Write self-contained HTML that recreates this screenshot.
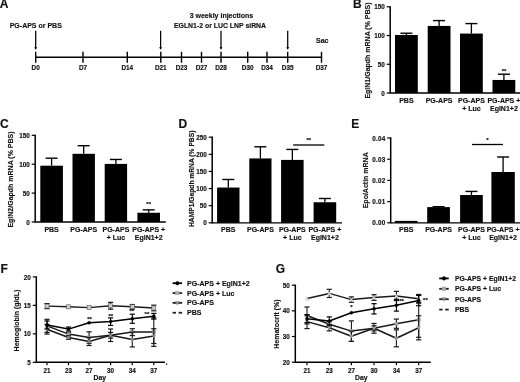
<!DOCTYPE html>
<html><head><meta charset="utf-8"><style>
html,body{margin:0;padding:0;background:#fff;width:520px;height:382px;overflow:hidden}
svg{display:block;will-change:transform}
text{font-family:"Liberation Sans",sans-serif;font-weight:bold;fill:#111;stroke:#111;stroke-width:0.15px}
</style></head><body>
<svg width="520" height="382" viewBox="0 0 520 382">
<text x="-0.2" y="7.9" font-size="12" text-anchor="start">A</text>
<line x1="35.7" y1="57.2" x2="321.5" y2="57.2" stroke="#000" stroke-width="1.4"/>
<line x1="35.7" y1="51.8" x2="35.7" y2="62.7" stroke="#000" stroke-width="1.4"/>
<text x="35.7" y="70.2" font-size="6.4" text-anchor="middle">D0</text>
<line x1="83" y1="51.8" x2="83" y2="62.7" stroke="#000" stroke-width="1.4"/>
<text x="83" y="70.2" font-size="6.4" text-anchor="middle">D7</text>
<line x1="127.3" y1="51.8" x2="127.3" y2="62.7" stroke="#000" stroke-width="1.4"/>
<text x="127.3" y="70.2" font-size="6.4" text-anchor="middle">D14</text>
<line x1="160.8" y1="51.8" x2="160.8" y2="62.7" stroke="#000" stroke-width="1.4"/>
<text x="160.8" y="70.2" font-size="6.4" text-anchor="middle">D21</text>
<line x1="181.5" y1="51.8" x2="181.5" y2="62.7" stroke="#000" stroke-width="1.4"/>
<text x="181.5" y="70.2" font-size="6.4" text-anchor="middle">D23</text>
<line x1="201.5" y1="51.8" x2="201.5" y2="62.7" stroke="#000" stroke-width="1.4"/>
<text x="201.5" y="70.2" font-size="6.4" text-anchor="middle">D27</text>
<line x1="221" y1="51.8" x2="221" y2="62.7" stroke="#000" stroke-width="1.4"/>
<text x="221" y="70.2" font-size="6.4" text-anchor="middle">D28</text>
<line x1="247.7" y1="51.8" x2="247.7" y2="62.7" stroke="#000" stroke-width="1.4"/>
<text x="247.7" y="70.2" font-size="6.4" text-anchor="middle">D30</text>
<line x1="267" y1="51.8" x2="267" y2="62.7" stroke="#000" stroke-width="1.4"/>
<text x="267" y="70.2" font-size="6.4" text-anchor="middle">D34</text>
<line x1="287.7" y1="51.8" x2="287.7" y2="62.7" stroke="#000" stroke-width="1.4"/>
<text x="287.7" y="70.2" font-size="6.4" text-anchor="middle">D35</text>
<line x1="321.5" y1="51.8" x2="321.5" y2="62.7" stroke="#000" stroke-width="1.4"/>
<text x="321.5" y="70.2" font-size="6.4" text-anchor="middle">D37</text>
<line x1="35.7" y1="30.8" x2="35.7" y2="48.3" stroke="#000" stroke-width="1.25"/>
<path d="M34.2,47.199999999999996 L37.2,47.199999999999996 L35.7,49.8 Z" fill="#000"/>
<line x1="160.6" y1="30.8" x2="160.6" y2="48.3" stroke="#000" stroke-width="1.25"/>
<path d="M159.1,47.199999999999996 L162.1,47.199999999999996 L160.6,49.8 Z" fill="#000"/>
<line x1="221" y1="30.8" x2="221" y2="48.3" stroke="#000" stroke-width="1.25"/>
<path d="M219.5,47.199999999999996 L222.5,47.199999999999996 L221,49.8 Z" fill="#000"/>
<line x1="287.7" y1="30.8" x2="287.7" y2="48.3" stroke="#000" stroke-width="1.25"/>
<path d="M286.2,47.199999999999996 L289.2,47.199999999999996 L287.7,49.8 Z" fill="#000"/>
<text x="9.7" y="27.9" font-size="7" text-anchor="start">PG-APS or PBS</text>
<text x="221.4" y="17.7" font-size="7" text-anchor="middle">3 weekly injections</text>
<text x="220.0" y="27.8" font-size="6.9" text-anchor="middle">EGLN1-2 or LUC LNP siRNA</text>
<text x="316" y="43.4" font-size="7" text-anchor="start">Sac</text>
<text x="353.0" y="7.9" font-size="12" text-anchor="start">B</text>
<line x1="390.2" y1="6.2" x2="390.2" y2="93.6" stroke="#000" stroke-width="1.5"/>
<line x1="390.2" y1="93" x2="521.0999999999999" y2="93" stroke="#000" stroke-width="1.3"/>
<line x1="386.7" y1="93.0" x2="390.2" y2="93.0" stroke="#000" stroke-width="1.2"/>
<text x="384.7" y="95.6" font-size="6.3" text-anchor="end">0</text>
<line x1="386.7" y1="64.26666666666667" x2="390.2" y2="64.26666666666667" stroke="#000" stroke-width="1.2"/>
<text x="384.7" y="66.86666666666666" font-size="6.3" text-anchor="end">50</text>
<line x1="386.7" y1="35.53333333333333" x2="390.2" y2="35.53333333333333" stroke="#000" stroke-width="1.2"/>
<text x="384.7" y="38.13333333333333" font-size="6.3" text-anchor="end">100</text>
<line x1="386.7" y1="6.799999999999997" x2="390.2" y2="6.799999999999997" stroke="#000" stroke-width="1.2"/>
<text x="384.7" y="9.399999999999997" font-size="6.3" text-anchor="end">150</text>
<rect x="395" y="34.958666666666666" width="22.8" height="58.041333333333334" fill="#000"/>
<line x1="406.4" y1="33.23466666666667" x2="406.4" y2="34.958666666666666" stroke="#000" stroke-width="1.3"/>
<line x1="400.4" y1="33.23466666666667" x2="412.4" y2="33.23466666666667" stroke="#000" stroke-width="1.4"/>
<text x="406.4" y="102.8" font-size="7" text-anchor="middle">PBS</text>
<rect x="427.7" y="25.936400000000006" width="22.8" height="67.0636" fill="#000"/>
<line x1="439.09999999999997" y1="20.592" x2="439.09999999999997" y2="25.936400000000006" stroke="#000" stroke-width="1.3"/>
<line x1="433.09999999999997" y1="20.592" x2="445.09999999999997" y2="20.592" stroke="#000" stroke-width="1.4"/>
<text x="439.09999999999997" y="102.8" font-size="7" text-anchor="middle">PG-APS</text>
<rect x="460" y="33.57946666666666" width="22.8" height="59.42053333333334" fill="#000"/>
<line x1="471.4" y1="23.580266666666674" x2="471.4" y2="33.57946666666666" stroke="#000" stroke-width="1.3"/>
<line x1="465.4" y1="23.580266666666674" x2="477.4" y2="23.580266666666674" stroke="#000" stroke-width="1.4"/>
<text x="471.4" y="102.8" font-size="7" text-anchor="middle">PG-APS</text>
<text x="471.4" y="110.89999999999999" font-size="7" text-anchor="middle">+ Luc</text>
<rect x="492.5" y="79.95506666666667" width="22.8" height="13.044933333333333" fill="#000"/>
<line x1="503.9" y1="74.2084" x2="503.9" y2="79.95506666666667" stroke="#000" stroke-width="1.3"/>
<line x1="497.9" y1="74.2084" x2="509.9" y2="74.2084" stroke="#000" stroke-width="1.4"/>
<text x="503.9" y="102.8" font-size="7" text-anchor="middle">PG-APS +</text>
<text x="503.9" y="110.89999999999999" font-size="7" text-anchor="middle">EglN1+2</text>
<text transform="translate(370.2,50.5) rotate(-90)" font-size="7" text-anchor="middle">EglN1/Gapdh mRNA (% PBS)</text>
<text x="504" y="73" font-size="6" text-anchor="middle">**</text>
<text x="0.0" y="127.6" font-size="12" text-anchor="start">C</text>
<line x1="35.2" y1="134.70000000000002" x2="35.2" y2="222.6" stroke="#000" stroke-width="1.5"/>
<line x1="35.2" y1="222.0" x2="165.8" y2="222.0" stroke="#000" stroke-width="1.3"/>
<line x1="31.700000000000003" y1="222.0" x2="35.2" y2="222.0" stroke="#000" stroke-width="1.2"/>
<text x="29.700000000000003" y="224.6" font-size="6.3" text-anchor="end">0</text>
<line x1="31.700000000000003" y1="193.1" x2="35.2" y2="193.1" stroke="#000" stroke-width="1.2"/>
<text x="29.700000000000003" y="195.7" font-size="6.3" text-anchor="end">50</text>
<line x1="31.700000000000003" y1="164.2" x2="35.2" y2="164.2" stroke="#000" stroke-width="1.2"/>
<text x="29.700000000000003" y="166.79999999999998" font-size="6.3" text-anchor="end">100</text>
<line x1="31.700000000000003" y1="135.3" x2="35.2" y2="135.3" stroke="#000" stroke-width="1.2"/>
<text x="29.700000000000003" y="137.9" font-size="6.3" text-anchor="end">150</text>
<rect x="40.3" y="165.7028" width="22.6" height="56.297200000000004" fill="#000"/>
<line x1="51.599999999999994" y1="158.18880000000001" x2="51.599999999999994" y2="165.7028" stroke="#000" stroke-width="1.3"/>
<line x1="45.599999999999994" y1="158.18880000000001" x2="57.599999999999994" y2="158.18880000000001" stroke="#000" stroke-width="1.4"/>
<text x="51.599999999999994" y="232.3" font-size="7" text-anchor="middle">PBS</text>
<rect x="72.5" y="153.796" width="22.4" height="68.20400000000001" fill="#000"/>
<line x1="83.7" y1="145.704" x2="83.7" y2="153.796" stroke="#000" stroke-width="1.3"/>
<line x1="77.7" y1="145.704" x2="89.7" y2="145.704" stroke="#000" stroke-width="1.4"/>
<text x="83.7" y="232.3" font-size="7" text-anchor="middle">PG-APS</text>
<rect x="104.7" y="163.911" width="22.4" height="58.089" fill="#000"/>
<line x1="115.9" y1="159.4604" x2="115.9" y2="163.911" stroke="#000" stroke-width="1.3"/>
<line x1="109.9" y1="159.4604" x2="121.9" y2="159.4604" stroke="#000" stroke-width="1.4"/>
<text x="115.9" y="232.3" font-size="7" text-anchor="middle">PG-APS</text>
<text x="115.9" y="240.4" font-size="7" text-anchor="middle">+ Luc</text>
<rect x="137.4" y="212.752" width="22.6" height="9.24799999999999" fill="#000"/>
<line x1="148.70000000000002" y1="209.862" x2="148.70000000000002" y2="212.752" stroke="#000" stroke-width="1.3"/>
<line x1="142.70000000000002" y1="209.862" x2="154.70000000000002" y2="209.862" stroke="#000" stroke-width="1.4"/>
<text x="148.70000000000002" y="232.3" font-size="7" text-anchor="middle">PG-APS +</text>
<text x="148.70000000000002" y="240.4" font-size="7" text-anchor="middle">EglN1+2</text>
<text transform="translate(13.3,179.5) rotate(-90)" font-size="7" text-anchor="middle">EglN2/Gapdh mRNA (% PBS)</text>
<text x="148.7" y="205.5" font-size="6" text-anchor="middle">**</text>
<text x="178.6" y="127.9" font-size="12" text-anchor="start">D</text>
<line x1="212.2" y1="136.6" x2="212.2" y2="223.4" stroke="#000" stroke-width="1.5"/>
<line x1="212.2" y1="222.8" x2="342.00000000000006" y2="222.8" stroke="#000" stroke-width="1.3"/>
<line x1="208.7" y1="222.8" x2="212.2" y2="222.8" stroke="#000" stroke-width="1.2"/>
<text x="206.7" y="225.4" font-size="6.3" text-anchor="end">0</text>
<line x1="208.7" y1="205.68" x2="212.2" y2="205.68" stroke="#000" stroke-width="1.2"/>
<text x="206.7" y="208.28" font-size="6.3" text-anchor="end">50</text>
<line x1="208.7" y1="188.56" x2="212.2" y2="188.56" stroke="#000" stroke-width="1.2"/>
<text x="206.7" y="191.16" font-size="6.3" text-anchor="end">100</text>
<line x1="208.7" y1="171.44" x2="212.2" y2="171.44" stroke="#000" stroke-width="1.2"/>
<text x="206.7" y="174.04" font-size="6.3" text-anchor="end">150</text>
<line x1="208.7" y1="154.32" x2="212.2" y2="154.32" stroke="#000" stroke-width="1.2"/>
<text x="206.7" y="156.92" font-size="6.3" text-anchor="end">200</text>
<line x1="208.7" y1="137.2" x2="212.2" y2="137.2" stroke="#000" stroke-width="1.2"/>
<text x="206.7" y="139.79999999999998" font-size="6.3" text-anchor="end">250</text>
<rect x="217.1" y="187.5328" width="22.4" height="35.2672" fill="#000"/>
<line x1="228.29999999999998" y1="179.4864" x2="228.29999999999998" y2="187.5328" stroke="#000" stroke-width="1.3"/>
<line x1="222.29999999999998" y1="179.4864" x2="234.29999999999998" y2="179.4864" stroke="#000" stroke-width="1.4"/>
<text x="228.29999999999998" y="232.3" font-size="7" text-anchor="middle">PBS</text>
<rect x="249.3" y="158.4288" width="22.2" height="64.37120000000002" fill="#000"/>
<line x1="260.40000000000003" y1="146.78719999999998" x2="260.40000000000003" y2="158.4288" stroke="#000" stroke-width="1.3"/>
<line x1="254.40000000000003" y1="146.78719999999998" x2="266.40000000000003" y2="146.78719999999998" stroke="#000" stroke-width="1.4"/>
<text x="260.40000000000003" y="232.3" font-size="7" text-anchor="middle">PG-APS</text>
<rect x="281.1" y="159.90112" width="22.5" height="62.89888000000002" fill="#000"/>
<line x1="292.35" y1="149.42368" x2="292.35" y2="159.90112" stroke="#000" stroke-width="1.3"/>
<line x1="286.35" y1="149.42368" x2="298.35" y2="149.42368" stroke="#000" stroke-width="1.4"/>
<text x="292.35" y="232.3" font-size="7" text-anchor="middle">PG-APS</text>
<text x="292.35" y="240.4" font-size="7" text-anchor="middle">+ Luc</text>
<rect x="313.6" y="202.256" width="22.6" height="20.54400000000001" fill="#000"/>
<line x1="324.90000000000003" y1="198.4896" x2="324.90000000000003" y2="202.256" stroke="#000" stroke-width="1.3"/>
<line x1="318.90000000000003" y1="198.4896" x2="330.90000000000003" y2="198.4896" stroke="#000" stroke-width="1.4"/>
<text x="324.90000000000003" y="232.3" font-size="7" text-anchor="middle">PG-APS +</text>
<text x="324.90000000000003" y="240.4" font-size="7" text-anchor="middle">EglN1+2</text>
<text transform="translate(193.6,178.8) rotate(-90)" font-size="6.7" text-anchor="middle">HAMP1/Gapdh mRNA (% PBS)</text>
<line x1="293.2" y1="145" x2="324.3" y2="145" stroke="#000" stroke-width="1.3"/>
<text x="308.8" y="141.9" font-size="6" text-anchor="middle">**</text>
<text x="351.3" y="128.0" font-size="12" text-anchor="start">E</text>
<line x1="390.7" y1="137.4" x2="390.7" y2="223.4" stroke="#000" stroke-width="1.5"/>
<line x1="390.7" y1="222.8" x2="520.5999999999999" y2="222.8" stroke="#000" stroke-width="1.3"/>
<line x1="387.2" y1="222.8" x2="390.7" y2="222.8" stroke="#000" stroke-width="1.2"/>
<text x="385.2" y="225.4" font-size="6.3" text-anchor="end" letter-spacing="0.3" dx="0.5">0.00</text>
<line x1="387.2" y1="201.6" x2="390.7" y2="201.6" stroke="#000" stroke-width="1.2"/>
<text x="385.2" y="204.2" font-size="6.3" text-anchor="end" letter-spacing="0.3" dx="0.5">0.01</text>
<line x1="387.2" y1="180.4" x2="390.7" y2="180.4" stroke="#000" stroke-width="1.2"/>
<text x="385.2" y="183.0" font-size="6.3" text-anchor="end" letter-spacing="0.3" dx="0.5">0.02</text>
<line x1="387.2" y1="159.2" x2="390.7" y2="159.2" stroke="#000" stroke-width="1.2"/>
<text x="385.2" y="161.79999999999998" font-size="6.3" text-anchor="end" letter-spacing="0.3" dx="0.5">0.03</text>
<line x1="387.2" y1="138.0" x2="390.7" y2="138.0" stroke="#000" stroke-width="1.2"/>
<text x="385.2" y="140.6" font-size="6.3" text-anchor="end" letter-spacing="0.3" dx="0.5">0.04</text>
<rect x="394.9" y="220.89200000000002" width="22.6" height="1.907999999999987" fill="#000"/>
<text x="406.2" y="232.3" font-size="7" text-anchor="middle">PBS</text>
<rect x="427.2" y="207.112" width="22.7" height="15.688000000000017" fill="#000"/>
<line x1="438.55" y1="206.68800000000002" x2="438.55" y2="207.112" stroke="#000" stroke-width="1.3"/>
<line x1="432.55" y1="206.68800000000002" x2="444.55" y2="206.68800000000002" stroke="#000" stroke-width="1.4"/>
<text x="438.55" y="232.3" font-size="7" text-anchor="middle">PG-APS</text>
<rect x="460.1" y="195.0068" width="22.7" height="27.793200000000013" fill="#000"/>
<line x1="471.45000000000005" y1="191.424" x2="471.45000000000005" y2="195.0068" stroke="#000" stroke-width="1.3"/>
<line x1="465.45000000000005" y1="191.424" x2="477.45000000000005" y2="191.424" stroke="#000" stroke-width="1.4"/>
<text x="471.45000000000005" y="232.3" font-size="7" text-anchor="middle">PG-APS</text>
<text x="471.45000000000005" y="240.4" font-size="7" text-anchor="middle">+ Luc</text>
<rect x="491.4" y="172.0048" width="23.4" height="50.79520000000002" fill="#000"/>
<line x1="503.09999999999997" y1="156.9952" x2="503.09999999999997" y2="172.0048" stroke="#000" stroke-width="1.3"/>
<line x1="497.09999999999997" y1="156.9952" x2="509.09999999999997" y2="156.9952" stroke="#000" stroke-width="1.4"/>
<text x="503.09999999999997" y="232.3" font-size="7" text-anchor="middle">PG-APS +</text>
<text x="503.09999999999997" y="240.4" font-size="7" text-anchor="middle">EglN1+2</text>
<text transform="translate(367.6,180.3) rotate(-90)" font-size="7" text-anchor="middle">Epo/Actin mRNA</text>
<line x1="472" y1="144.5" x2="503" y2="144.5" stroke="#000" stroke-width="1.3"/>
<text x="487.3" y="141.5" font-size="6" text-anchor="middle">*</text>
<text x="0.4" y="272.5" font-size="12" text-anchor="start">F</text>
<line x1="36.3" y1="276.29999999999995" x2="36.3" y2="362.90000000000003" stroke="#000" stroke-width="1.5"/>
<line x1="36.3" y1="362.3" x2="165" y2="362.3" stroke="#000" stroke-width="1.4"/>
<line x1="32.8" y1="362.3" x2="36.3" y2="362.3" stroke="#000" stroke-width="1.2"/>
<text x="30.799999999999997" y="364.90000000000003" font-size="6.3" text-anchor="end">5</text>
<line x1="32.8" y1="333.8333333333333" x2="36.3" y2="333.8333333333333" stroke="#000" stroke-width="1.2"/>
<text x="30.799999999999997" y="336.43333333333334" font-size="6.3" text-anchor="end">10</text>
<line x1="32.8" y1="305.3666666666667" x2="36.3" y2="305.3666666666667" stroke="#000" stroke-width="1.2"/>
<text x="30.799999999999997" y="307.9666666666667" font-size="6.3" text-anchor="end">15</text>
<line x1="32.8" y1="276.9" x2="36.3" y2="276.9" stroke="#000" stroke-width="1.2"/>
<text x="30.799999999999997" y="279.5" font-size="6.3" text-anchor="end">20</text>
<line x1="47" y1="362.3" x2="47" y2="365.3" stroke="#000" stroke-width="1.2"/>
<text x="47" y="372.6" font-size="6.3" text-anchor="middle">21</text>
<line x1="68.5" y1="362.3" x2="68.5" y2="365.3" stroke="#000" stroke-width="1.2"/>
<text x="68.5" y="372.6" font-size="6.3" text-anchor="middle">23</text>
<line x1="89.1" y1="362.3" x2="89.1" y2="365.3" stroke="#000" stroke-width="1.2"/>
<text x="89.1" y="372.6" font-size="6.3" text-anchor="middle">27</text>
<line x1="110.6" y1="362.3" x2="110.6" y2="365.3" stroke="#000" stroke-width="1.2"/>
<text x="110.6" y="372.6" font-size="6.3" text-anchor="middle">30</text>
<line x1="132.3" y1="362.3" x2="132.3" y2="365.3" stroke="#000" stroke-width="1.2"/>
<text x="132.3" y="372.6" font-size="6.3" text-anchor="middle">34</text>
<line x1="153.8" y1="362.3" x2="153.8" y2="365.3" stroke="#000" stroke-width="1.2"/>
<text x="153.8" y="372.6" font-size="6.3" text-anchor="middle">37</text>
<text x="99.85" y="380.0" font-size="6.8" text-anchor="middle">Day</text>
<text transform="translate(18.9,320.5) rotate(-90)" font-size="7" text-anchor="middle">Hemoglobin (g/dL)</text>
<polyline points="47,306.1 68.5,306.8 89.1,307.6 110.6,305.8 132.3,306.8 153.8,308.0" fill="none" stroke="#1a1a1a" stroke-width="1.4" stroke-linejoin="round"/>
<line x1="47" y1="303.6017333333333" x2="47" y2="308.61186666666663" stroke="#1a1a1a" stroke-width="1.1"/>
<line x1="44.4" y1="303.6017333333333" x2="49.6" y2="303.6017333333333" stroke="#1a1a1a" stroke-width="1.2"/>
<line x1="44.4" y1="308.61186666666663" x2="49.6" y2="308.61186666666663" stroke="#1a1a1a" stroke-width="1.2"/>
<line x1="110.6" y1="302.3492" x2="110.6" y2="309.1812" stroke="#1a1a1a" stroke-width="1.1"/>
<line x1="108.0" y1="302.3492" x2="113.19999999999999" y2="302.3492" stroke="#1a1a1a" stroke-width="1.2"/>
<line x1="108.0" y1="309.1812" x2="113.19999999999999" y2="309.1812" stroke="#1a1a1a" stroke-width="1.2"/>
<line x1="132.3" y1="304.51266666666663" x2="132.3" y2="309.0673333333333" stroke="#1a1a1a" stroke-width="1.1"/>
<line x1="129.70000000000002" y1="304.51266666666663" x2="134.9" y2="304.51266666666663" stroke="#1a1a1a" stroke-width="1.2"/>
<line x1="129.70000000000002" y1="309.0673333333333" x2="134.9" y2="309.0673333333333" stroke="#1a1a1a" stroke-width="1.2"/>
<line x1="153.8" y1="305.13893333333334" x2="153.8" y2="310.83226666666667" stroke="#1a1a1a" stroke-width="1.1"/>
<line x1="151.20000000000002" y1="305.13893333333334" x2="156.4" y2="305.13893333333334" stroke="#1a1a1a" stroke-width="1.2"/>
<line x1="151.20000000000002" y1="310.83226666666667" x2="156.4" y2="310.83226666666667" stroke="#1a1a1a" stroke-width="1.2"/>
<rect x="45.0" y="304.1" width="4.0" height="4.0" fill="#cfcfcf" stroke="#555" stroke-width="0.6"/>
<rect x="66.5" y="304.8" width="4.0" height="4.0" fill="#cfcfcf" stroke="#555" stroke-width="0.6"/>
<rect x="87.1" y="305.6" width="4.0" height="4.0" fill="#cfcfcf" stroke="#555" stroke-width="0.6"/>
<rect x="108.6" y="303.8" width="4.0" height="4.0" fill="#cfcfcf" stroke="#555" stroke-width="0.6"/>
<rect x="130.3" y="304.8" width="4.0" height="4.0" fill="#cfcfcf" stroke="#555" stroke-width="0.6"/>
<rect x="151.8" y="306.0" width="4.0" height="4.0" fill="#cfcfcf" stroke="#555" stroke-width="0.6"/>
<polyline points="47,325.9 68.5,334.1 89.1,337.5 110.6,335.3 132.3,332.1 153.8,332.1" fill="none" stroke="#1a1a1a" stroke-width="1.5" stroke-linejoin="round"/>
<line x1="47" y1="319.31533333333334" x2="47" y2="332.40999999999997" stroke="#1a1a1a" stroke-width="1.1"/>
<line x1="44.4" y1="319.31533333333334" x2="49.6" y2="319.31533333333334" stroke="#1a1a1a" stroke-width="1.2"/>
<line x1="44.4" y1="332.40999999999997" x2="49.6" y2="332.40999999999997" stroke="#1a1a1a" stroke-width="1.2"/>
<line x1="68.5" y1="332.40999999999997" x2="68.5" y2="335.826" stroke="#1a1a1a" stroke-width="1.1"/>
<line x1="65.9" y1="332.40999999999997" x2="71.1" y2="332.40999999999997" stroke="#1a1a1a" stroke-width="1.2"/>
<line x1="65.9" y1="335.826" x2="71.1" y2="335.826" stroke="#1a1a1a" stroke-width="1.2"/>
<line x1="89.1" y1="331.84066666666666" x2="89.1" y2="343.2273333333333" stroke="#1a1a1a" stroke-width="1.1"/>
<line x1="86.5" y1="331.84066666666666" x2="91.69999999999999" y2="331.84066666666666" stroke="#1a1a1a" stroke-width="1.2"/>
<line x1="86.5" y1="343.2273333333333" x2="91.69999999999999" y2="343.2273333333333" stroke="#1a1a1a" stroke-width="1.2"/>
<line x1="110.6" y1="332.40999999999997" x2="110.6" y2="338.10333333333335" stroke="#1a1a1a" stroke-width="1.1"/>
<line x1="108.0" y1="332.40999999999997" x2="113.19999999999999" y2="332.40999999999997" stroke="#1a1a1a" stroke-width="1.2"/>
<line x1="108.0" y1="338.10333333333335" x2="113.19999999999999" y2="338.10333333333335" stroke="#1a1a1a" stroke-width="1.2"/>
<line x1="132.3" y1="328.70933333333335" x2="132.3" y2="335.54133333333334" stroke="#1a1a1a" stroke-width="1.1"/>
<line x1="129.70000000000002" y1="328.70933333333335" x2="134.9" y2="328.70933333333335" stroke="#1a1a1a" stroke-width="1.2"/>
<line x1="129.70000000000002" y1="335.54133333333334" x2="134.9" y2="335.54133333333334" stroke="#1a1a1a" stroke-width="1.2"/>
<line x1="153.8" y1="317.892" x2="153.8" y2="346.3586666666667" stroke="#1a1a1a" stroke-width="1.1"/>
<line x1="151.20000000000002" y1="317.892" x2="156.4" y2="317.892" stroke="#1a1a1a" stroke-width="1.2"/>
<line x1="151.20000000000002" y1="346.3586666666667" x2="156.4" y2="346.3586666666667" stroke="#1a1a1a" stroke-width="1.2"/>
<rect x="45.5" y="324.4" width="3.0" height="3.0" fill="#a0a0a0" stroke="#888" stroke-width="0.6"/>
<rect x="67.0" y="332.6" width="3.0" height="3.0" fill="#a0a0a0" stroke="#888" stroke-width="0.6"/>
<rect x="87.6" y="336.0" width="3.0" height="3.0" fill="#a0a0a0" stroke="#888" stroke-width="0.6"/>
<rect x="109.1" y="333.8" width="3.0" height="3.0" fill="#a0a0a0" stroke="#888" stroke-width="0.6"/>
<rect x="130.8" y="330.6" width="3.0" height="3.0" fill="#a0a0a0" stroke="#888" stroke-width="0.6"/>
<rect x="152.3" y="330.6" width="3.0" height="3.0" fill="#a0a0a0" stroke="#888" stroke-width="0.6"/>
<polyline points="47,329.3 68.5,337.5 89.1,341.5 110.6,335.3 132.3,339.5 153.8,336.1" fill="none" stroke="#1a1a1a" stroke-width="1.5" stroke-linejoin="round"/>
<line x1="47" y1="324.4393333333333" x2="47" y2="334.118" stroke="#1a1a1a" stroke-width="1.1"/>
<line x1="44.4" y1="324.4393333333333" x2="49.6" y2="324.4393333333333" stroke="#1a1a1a" stroke-width="1.2"/>
<line x1="44.4" y1="334.118" x2="49.6" y2="334.118" stroke="#1a1a1a" stroke-width="1.2"/>
<line x1="68.5" y1="335.826" x2="68.5" y2="339.242" stroke="#1a1a1a" stroke-width="1.1"/>
<line x1="65.9" y1="335.826" x2="71.1" y2="335.826" stroke="#1a1a1a" stroke-width="1.2"/>
<line x1="65.9" y1="339.242" x2="71.1" y2="339.242" stroke="#1a1a1a" stroke-width="1.2"/>
<line x1="89.1" y1="337.534" x2="89.1" y2="345.50466666666665" stroke="#1a1a1a" stroke-width="1.1"/>
<line x1="86.5" y1="337.534" x2="91.69999999999999" y2="337.534" stroke="#1a1a1a" stroke-width="1.2"/>
<line x1="86.5" y1="345.50466666666665" x2="91.69999999999999" y2="345.50466666666665" stroke="#1a1a1a" stroke-width="1.2"/>
<line x1="110.6" y1="328.994" x2="110.6" y2="341.51933333333335" stroke="#1a1a1a" stroke-width="1.1"/>
<line x1="108.0" y1="328.994" x2="113.19999999999999" y2="328.994" stroke="#1a1a1a" stroke-width="1.2"/>
<line x1="108.0" y1="341.51933333333335" x2="113.19999999999999" y2="341.51933333333335" stroke="#1a1a1a" stroke-width="1.2"/>
<line x1="132.3" y1="332.12533333333334" x2="132.3" y2="346.928" stroke="#1a1a1a" stroke-width="1.1"/>
<line x1="129.70000000000002" y1="332.12533333333334" x2="134.9" y2="332.12533333333334" stroke="#1a1a1a" stroke-width="1.2"/>
<line x1="129.70000000000002" y1="346.928" x2="134.9" y2="346.928" stroke="#1a1a1a" stroke-width="1.2"/>
<line x1="153.8" y1="328.70933333333335" x2="153.8" y2="343.512" stroke="#1a1a1a" stroke-width="1.1"/>
<line x1="151.20000000000002" y1="328.70933333333335" x2="156.4" y2="328.70933333333335" stroke="#1a1a1a" stroke-width="1.2"/>
<line x1="151.20000000000002" y1="343.512" x2="156.4" y2="343.512" stroke="#1a1a1a" stroke-width="1.2"/>
<path d="M45.2,328.1 L48.8,328.1 L47.0,331.1 Z" fill="#909090" stroke="#888" stroke-width="0.5"/>
<path d="M66.7,336.3 L70.3,336.3 L68.5,339.3 Z" fill="#909090" stroke="#888" stroke-width="0.5"/>
<path d="M87.3,340.3 L90.9,340.3 L89.1,343.3 Z" fill="#909090" stroke="#888" stroke-width="0.5"/>
<path d="M108.8,334.1 L112.4,334.1 L110.6,337.1 Z" fill="#909090" stroke="#888" stroke-width="0.5"/>
<path d="M130.5,338.3 L134.1,338.3 L132.3,341.3 Z" fill="#909090" stroke="#888" stroke-width="0.5"/>
<path d="M152.0,334.9 L155.6,334.9 L153.8,337.9 Z" fill="#909090" stroke="#888" stroke-width="0.5"/>
<polyline points="47,325.0 68.5,329.1 89.1,322.7 110.6,321.6 132.3,318.7 153.8,316.2" fill="none" stroke="#000" stroke-width="1.5" stroke-linejoin="round"/>
<line x1="47" y1="320.9664" x2="47" y2="328.9370666666666" stroke="#000" stroke-width="1.1"/>
<line x1="44.4" y1="320.9664" x2="49.6" y2="320.9664" stroke="#000" stroke-width="1.2"/>
<line x1="44.4" y1="328.9370666666666" x2="49.6" y2="328.9370666666666" stroke="#000" stroke-width="1.2"/>
<line x1="68.5" y1="327.05826666666667" x2="68.5" y2="331.04359999999997" stroke="#000" stroke-width="1.1"/>
<line x1="65.9" y1="327.05826666666667" x2="71.1" y2="327.05826666666667" stroke="#000" stroke-width="1.2"/>
<line x1="65.9" y1="331.04359999999997" x2="71.1" y2="331.04359999999997" stroke="#000" stroke-width="1.2"/>
<line x1="110.6" y1="317.892" x2="110.6" y2="325.4072" stroke="#000" stroke-width="1.1"/>
<line x1="108.0" y1="317.892" x2="113.19999999999999" y2="317.892" stroke="#000" stroke-width="1.2"/>
<line x1="108.0" y1="325.4072" x2="113.19999999999999" y2="325.4072" stroke="#000" stroke-width="1.2"/>
<line x1="132.3" y1="314.1913333333333" x2="132.3" y2="323.30066666666664" stroke="#000" stroke-width="1.1"/>
<line x1="129.70000000000002" y1="314.1913333333333" x2="134.9" y2="314.1913333333333" stroke="#000" stroke-width="1.2"/>
<line x1="129.70000000000002" y1="323.30066666666664" x2="134.9" y2="323.30066666666664" stroke="#000" stroke-width="1.2"/>
<line x1="153.8" y1="313.3942666666667" x2="153.8" y2="319.0876" stroke="#000" stroke-width="1.1"/>
<line x1="151.20000000000002" y1="313.3942666666667" x2="156.4" y2="313.3942666666667" stroke="#000" stroke-width="1.2"/>
<line x1="151.20000000000002" y1="319.0876" x2="156.4" y2="319.0876" stroke="#000" stroke-width="1.2"/>
<circle cx="47" cy="325.0" r="1.5" fill="#000" stroke="#000" stroke-width="0.5"/>
<circle cx="68.5" cy="329.1" r="1.5" fill="#000" stroke="#000" stroke-width="0.5"/>
<circle cx="89.1" cy="322.7" r="1.5" fill="#000" stroke="#000" stroke-width="0.5"/>
<circle cx="110.6" cy="321.6" r="1.5" fill="#000" stroke="#000" stroke-width="0.5"/>
<circle cx="132.3" cy="318.7" r="1.5" fill="#000" stroke="#000" stroke-width="0.5"/>
<circle cx="153.8" cy="316.2" r="1.5" fill="#000" stroke="#000" stroke-width="0.5"/>
<line x1="172.6" y1="283.2" x2="182.1" y2="283.2" stroke="#000" stroke-width="1.8"/>
<circle cx="177.35" cy="283.2" r="1.8" fill="#000" stroke="#000" stroke-width="0.5"/>
<text x="187.1" y="285.7" font-size="7" text-anchor="start">PG-APS + EglN1+2</text>
<line x1="172.6" y1="293.05" x2="182.1" y2="293.05" stroke="#222" stroke-width="1.8"/>
<rect x="175.5" y="291.2" width="3.6" height="3.6" fill="#aaa" stroke="#aaa" stroke-width="0.6"/>
<text x="187.1" y="295.55" font-size="7" text-anchor="start">PG-APS + Luc</text>
<line x1="172.6" y1="302.9" x2="182.1" y2="302.9" stroke="#222" stroke-width="1.8"/>
<path d="M175.2,301.4 L179.5,301.4 L177.3,305.0 Z" fill="#888" stroke="#888" stroke-width="0.5"/>
<text x="187.1" y="305.4" font-size="7" text-anchor="start">PG-APS</text>
<line x1="172.6" y1="312.75" x2="182.1" y2="312.75" stroke="#222" stroke-width="1.8"/>
<rect x="176.0" y="311.2" width="2.6" height="3" fill="#fff"/>
<text x="187.1" y="315.25" font-size="7" text-anchor="start">PBS</text>
<circle cx="166.6" cy="364.1" r="0.8" fill="#111"/>
<text x="89.5" y="320.9" font-size="6" text-anchor="middle">**</text>
<text x="110.8" y="317.6" font-size="6" text-anchor="middle">**</text>
<text x="131.8" y="313.4" font-size="6" text-anchor="middle">**</text>
<text x="146.9" y="315.5" font-size="6" text-anchor="middle">**</text>
<text x="275.7" y="272.7" font-size="12" text-anchor="start">G</text>
<line x1="295.3" y1="284.59999999999997" x2="295.3" y2="362.8" stroke="#000" stroke-width="1.5"/>
<line x1="295.3" y1="362.2" x2="430.8" y2="362.2" stroke="#000" stroke-width="1.4"/>
<line x1="291.8" y1="362.2" x2="295.3" y2="362.2" stroke="#000" stroke-width="1.2"/>
<text x="289.8" y="364.8" font-size="6.3" text-anchor="end">20</text>
<line x1="291.8" y1="336.5333333333333" x2="295.3" y2="336.5333333333333" stroke="#000" stroke-width="1.2"/>
<text x="289.8" y="339.1333333333333" font-size="6.3" text-anchor="end">30</text>
<line x1="291.8" y1="310.8666666666667" x2="295.3" y2="310.8666666666667" stroke="#000" stroke-width="1.2"/>
<text x="289.8" y="313.4666666666667" font-size="6.3" text-anchor="end">40</text>
<line x1="291.8" y1="285.2" x2="295.3" y2="285.2" stroke="#000" stroke-width="1.2"/>
<text x="289.8" y="287.8" font-size="6.3" text-anchor="end">50</text>
<line x1="307" y1="362.2" x2="307" y2="365.2" stroke="#000" stroke-width="1.2"/>
<text x="307" y="372.5" font-size="6.3" text-anchor="middle">21</text>
<line x1="329.3" y1="362.2" x2="329.3" y2="365.2" stroke="#000" stroke-width="1.2"/>
<text x="329.3" y="372.5" font-size="6.3" text-anchor="middle">23</text>
<line x1="351.4" y1="362.2" x2="351.4" y2="365.2" stroke="#000" stroke-width="1.2"/>
<text x="351.4" y="372.5" font-size="6.3" text-anchor="middle">27</text>
<line x1="374" y1="362.2" x2="374" y2="365.2" stroke="#000" stroke-width="1.2"/>
<text x="374" y="372.5" font-size="6.3" text-anchor="middle">30</text>
<line x1="396.4" y1="362.2" x2="396.4" y2="365.2" stroke="#000" stroke-width="1.2"/>
<text x="396.4" y="372.5" font-size="6.3" text-anchor="middle">34</text>
<line x1="418.7" y1="362.2" x2="418.7" y2="365.2" stroke="#000" stroke-width="1.2"/>
<text x="418.7" y="372.5" font-size="6.3" text-anchor="middle">37</text>
<text x="361.3" y="379.9" font-size="6.8" text-anchor="middle">Day</text>
<text transform="translate(278.6,324.0) rotate(-90)" font-size="7" text-anchor="middle">Hematocrit (%)</text>
<polyline points="307,298.5 329.3,293.4 351.4,299.6 374,297.5 396.4,296.0 418.7,298.8" fill="none" stroke="#1a1a1a" stroke-width="1.5" stroke-linejoin="round"/>
<line x1="329.3" y1="289.3066666666667" x2="329.3" y2="297.52" stroke="#1a1a1a" stroke-width="1.1"/>
<line x1="326.7" y1="289.3066666666667" x2="331.90000000000003" y2="289.3066666666667" stroke="#1a1a1a" stroke-width="1.2"/>
<line x1="326.7" y1="297.52" x2="331.90000000000003" y2="297.52" stroke="#1a1a1a" stroke-width="1.2"/>
<line x1="351.4" y1="296.87833333333333" x2="351.4" y2="302.2683333333333" stroke="#1a1a1a" stroke-width="1.1"/>
<line x1="348.79999999999995" y1="296.87833333333333" x2="354.0" y2="296.87833333333333" stroke="#1a1a1a" stroke-width="1.2"/>
<line x1="348.79999999999995" y1="302.2683333333333" x2="354.0" y2="302.2683333333333" stroke="#1a1a1a" stroke-width="1.2"/>
<line x1="374" y1="294.69666666666666" x2="374" y2="300.3433333333333" stroke="#1a1a1a" stroke-width="1.1"/>
<line x1="371.4" y1="294.69666666666666" x2="376.6" y2="294.69666666666666" stroke="#1a1a1a" stroke-width="1.2"/>
<line x1="371.4" y1="300.3433333333333" x2="376.6" y2="300.3433333333333" stroke="#1a1a1a" stroke-width="1.2"/>
<line x1="396.4" y1="291.36" x2="396.4" y2="300.59999999999997" stroke="#1a1a1a" stroke-width="1.1"/>
<line x1="393.79999999999995" y1="291.36" x2="399.0" y2="291.36" stroke="#1a1a1a" stroke-width="1.2"/>
<line x1="393.79999999999995" y1="300.59999999999997" x2="399.0" y2="300.59999999999997" stroke="#1a1a1a" stroke-width="1.2"/>
<line x1="418.7" y1="294.43999999999994" x2="418.7" y2="303.16666666666663" stroke="#1a1a1a" stroke-width="1.1"/>
<line x1="416.09999999999997" y1="294.43999999999994" x2="421.3" y2="294.43999999999994" stroke="#1a1a1a" stroke-width="1.2"/>
<line x1="416.09999999999997" y1="303.16666666666663" x2="421.3" y2="303.16666666666663" stroke="#1a1a1a" stroke-width="1.2"/>
<path d="M305.1,300.1 L308.9,300.1 L307.0,296.9 Z" fill="#e0e0e0" stroke="#bbb" stroke-width="0.5"/>
<path d="M327.4,295.0 L331.2,295.0 L329.3,291.8 Z" fill="#e0e0e0" stroke="#bbb" stroke-width="0.5"/>
<path d="M349.5,301.2 L353.3,301.2 L351.4,298.0 Z" fill="#e0e0e0" stroke="#bbb" stroke-width="0.5"/>
<path d="M372.1,299.1 L375.9,299.1 L374.0,295.9 Z" fill="#e0e0e0" stroke="#bbb" stroke-width="0.5"/>
<path d="M394.5,297.6 L398.3,297.6 L396.4,294.4 Z" fill="#e0e0e0" stroke="#bbb" stroke-width="0.5"/>
<path d="M416.8,300.4 L420.6,300.4 L418.7,297.2 Z" fill="#e0e0e0" stroke="#bbb" stroke-width="0.5"/>
<polyline points="307,315.5 329.3,324.2 351.4,331.1 374,328.3 396.4,323.7 418.7,319.8" fill="none" stroke="#1a1a1a" stroke-width="1.5" stroke-linejoin="round"/>
<line x1="307" y1="307.01666666666665" x2="307" y2="323.95666666666665" stroke="#1a1a1a" stroke-width="1.1"/>
<line x1="304.4" y1="307.01666666666665" x2="309.6" y2="307.01666666666665" stroke="#1a1a1a" stroke-width="1.2"/>
<line x1="304.4" y1="323.95666666666665" x2="309.6" y2="323.95666666666665" stroke="#1a1a1a" stroke-width="1.2"/>
<line x1="329.3" y1="321.64666666666665" x2="329.3" y2="326.78" stroke="#1a1a1a" stroke-width="1.1"/>
<line x1="326.7" y1="321.64666666666665" x2="331.90000000000003" y2="321.64666666666665" stroke="#1a1a1a" stroke-width="1.2"/>
<line x1="326.7" y1="326.78" x2="331.90000000000003" y2="326.78" stroke="#1a1a1a" stroke-width="1.2"/>
<line x1="351.4" y1="320.87666666666667" x2="351.4" y2="341.40999999999997" stroke="#1a1a1a" stroke-width="1.1"/>
<line x1="348.79999999999995" y1="320.87666666666667" x2="354.0" y2="320.87666666666667" stroke="#1a1a1a" stroke-width="1.2"/>
<line x1="348.79999999999995" y1="341.40999999999997" x2="354.0" y2="341.40999999999997" stroke="#1a1a1a" stroke-width="1.2"/>
<line x1="374" y1="323.4433333333333" x2="374" y2="333.19666666666666" stroke="#1a1a1a" stroke-width="1.1"/>
<line x1="371.4" y1="323.4433333333333" x2="376.6" y2="323.4433333333333" stroke="#1a1a1a" stroke-width="1.2"/>
<line x1="371.4" y1="333.19666666666666" x2="376.6" y2="333.19666666666666" stroke="#1a1a1a" stroke-width="1.2"/>
<line x1="396.4" y1="319.08" x2="396.4" y2="328.32" stroke="#1a1a1a" stroke-width="1.1"/>
<line x1="393.79999999999995" y1="319.08" x2="399.0" y2="319.08" stroke="#1a1a1a" stroke-width="1.2"/>
<line x1="393.79999999999995" y1="328.32" x2="399.0" y2="328.32" stroke="#1a1a1a" stroke-width="1.2"/>
<line x1="418.7" y1="302.39666666666665" x2="418.7" y2="337.30333333333334" stroke="#1a1a1a" stroke-width="1.1"/>
<line x1="416.09999999999997" y1="302.39666666666665" x2="421.3" y2="302.39666666666665" stroke="#1a1a1a" stroke-width="1.2"/>
<line x1="416.09999999999997" y1="337.30333333333334" x2="421.3" y2="337.30333333333334" stroke="#1a1a1a" stroke-width="1.2"/>
<rect x="305.5" y="314.0" width="3.0" height="3.0" fill="#a8a8a8" stroke="#999" stroke-width="0.6"/>
<rect x="327.8" y="322.7" width="3.0" height="3.0" fill="#a8a8a8" stroke="#999" stroke-width="0.6"/>
<rect x="349.9" y="329.6" width="3.0" height="3.0" fill="#a8a8a8" stroke="#999" stroke-width="0.6"/>
<rect x="372.5" y="326.8" width="3.0" height="3.0" fill="#a8a8a8" stroke="#999" stroke-width="0.6"/>
<rect x="394.9" y="322.2" width="3.0" height="3.0" fill="#a8a8a8" stroke="#999" stroke-width="0.6"/>
<rect x="417.2" y="318.3" width="3.0" height="3.0" fill="#a8a8a8" stroke="#999" stroke-width="0.6"/>
<polyline points="307,321.6 329.3,327.8 351.4,336.3 374,328.3 396.4,338.3 418.7,327.8" fill="none" stroke="#1a1a1a" stroke-width="1.5" stroke-linejoin="round"/>
<line x1="307" y1="314.71666666666664" x2="307" y2="328.57666666666665" stroke="#1a1a1a" stroke-width="1.1"/>
<line x1="304.4" y1="314.71666666666664" x2="309.6" y2="314.71666666666664" stroke="#1a1a1a" stroke-width="1.2"/>
<line x1="304.4" y1="328.57666666666665" x2="309.6" y2="328.57666666666665" stroke="#1a1a1a" stroke-width="1.2"/>
<line x1="329.3" y1="324.72666666666663" x2="329.3" y2="330.88666666666666" stroke="#1a1a1a" stroke-width="1.1"/>
<line x1="326.7" y1="324.72666666666663" x2="331.90000000000003" y2="324.72666666666663" stroke="#1a1a1a" stroke-width="1.2"/>
<line x1="326.7" y1="330.88666666666666" x2="331.90000000000003" y2="330.88666666666666" stroke="#1a1a1a" stroke-width="1.2"/>
<line x1="351.4" y1="331.1433333333333" x2="351.4" y2="341.40999999999997" stroke="#1a1a1a" stroke-width="1.1"/>
<line x1="348.79999999999995" y1="331.1433333333333" x2="354.0" y2="331.1433333333333" stroke="#1a1a1a" stroke-width="1.2"/>
<line x1="348.79999999999995" y1="341.40999999999997" x2="354.0" y2="341.40999999999997" stroke="#1a1a1a" stroke-width="1.2"/>
<line x1="374" y1="325.75333333333333" x2="374" y2="330.88666666666666" stroke="#1a1a1a" stroke-width="1.1"/>
<line x1="371.4" y1="325.75333333333333" x2="376.6" y2="325.75333333333333" stroke="#1a1a1a" stroke-width="1.2"/>
<line x1="371.4" y1="330.88666666666666" x2="376.6" y2="330.88666666666666" stroke="#1a1a1a" stroke-width="1.2"/>
<line x1="396.4" y1="329.86" x2="396.4" y2="346.8" stroke="#1a1a1a" stroke-width="1.1"/>
<line x1="393.79999999999995" y1="329.86" x2="399.0" y2="329.86" stroke="#1a1a1a" stroke-width="1.2"/>
<line x1="393.79999999999995" y1="346.8" x2="399.0" y2="346.8" stroke="#1a1a1a" stroke-width="1.2"/>
<line x1="418.7" y1="315.74333333333334" x2="418.7" y2="339.87" stroke="#1a1a1a" stroke-width="1.1"/>
<line x1="416.09999999999997" y1="315.74333333333334" x2="421.3" y2="315.74333333333334" stroke="#1a1a1a" stroke-width="1.2"/>
<line x1="416.09999999999997" y1="339.87" x2="421.3" y2="339.87" stroke="#1a1a1a" stroke-width="1.2"/>
<path d="M305.2,320.4 L308.8,320.4 L307.0,323.4 Z" fill="#a0a0a0" stroke="#999" stroke-width="0.5"/>
<path d="M327.5,326.6 L331.1,326.6 L329.3,329.6 Z" fill="#a0a0a0" stroke="#999" stroke-width="0.5"/>
<path d="M349.6,335.1 L353.2,335.1 L351.4,338.1 Z" fill="#a0a0a0" stroke="#999" stroke-width="0.5"/>
<path d="M372.2,327.1 L375.8,327.1 L374.0,330.1 Z" fill="#a0a0a0" stroke="#999" stroke-width="0.5"/>
<path d="M394.6,337.1 L398.2,337.1 L396.4,340.1 Z" fill="#a0a0a0" stroke="#999" stroke-width="0.5"/>
<path d="M416.9,326.6 L420.5,326.6 L418.7,329.6 Z" fill="#a0a0a0" stroke="#999" stroke-width="0.5"/>
<polyline points="307,318.8 329.3,321.0 351.4,312.7 374,308.8 396.4,305.2 418.7,300.6" fill="none" stroke="#000" stroke-width="1.5" stroke-linejoin="round"/>
<line x1="307" y1="314.9733333333333" x2="307" y2="322.67333333333335" stroke="#000" stroke-width="1.1"/>
<line x1="304.4" y1="314.9733333333333" x2="309.6" y2="314.9733333333333" stroke="#000" stroke-width="1.2"/>
<line x1="304.4" y1="322.67333333333335" x2="309.6" y2="322.67333333333335" stroke="#000" stroke-width="1.2"/>
<line x1="329.3" y1="316.8983333333333" x2="329.3" y2="325.1116666666667" stroke="#000" stroke-width="1.1"/>
<line x1="326.7" y1="316.8983333333333" x2="331.90000000000003" y2="316.8983333333333" stroke="#000" stroke-width="1.2"/>
<line x1="326.7" y1="325.1116666666667" x2="331.90000000000003" y2="325.1116666666667" stroke="#000" stroke-width="1.2"/>
<line x1="374" y1="303.68" x2="374" y2="313.94666666666666" stroke="#000" stroke-width="1.1"/>
<line x1="371.4" y1="303.68" x2="376.6" y2="303.68" stroke="#000" stroke-width="1.2"/>
<line x1="371.4" y1="313.94666666666666" x2="376.6" y2="313.94666666666666" stroke="#000" stroke-width="1.2"/>
<line x1="396.4" y1="299.31666666666666" x2="396.4" y2="311.12333333333333" stroke="#000" stroke-width="1.1"/>
<line x1="393.79999999999995" y1="299.31666666666666" x2="399.0" y2="299.31666666666666" stroke="#000" stroke-width="1.2"/>
<line x1="393.79999999999995" y1="311.12333333333333" x2="399.0" y2="311.12333333333333" stroke="#000" stroke-width="1.2"/>
<line x1="418.7" y1="295.46666666666664" x2="418.7" y2="305.73333333333335" stroke="#000" stroke-width="1.1"/>
<line x1="416.09999999999997" y1="295.46666666666664" x2="421.3" y2="295.46666666666664" stroke="#000" stroke-width="1.2"/>
<line x1="416.09999999999997" y1="305.73333333333335" x2="421.3" y2="305.73333333333335" stroke="#000" stroke-width="1.2"/>
<circle cx="307" cy="318.8" r="1.5" fill="#000" stroke="#000" stroke-width="0.5"/>
<circle cx="329.3" cy="321.0" r="1.5" fill="#000" stroke="#000" stroke-width="0.5"/>
<circle cx="351.4" cy="312.7" r="1.5" fill="#000" stroke="#000" stroke-width="0.5"/>
<circle cx="374" cy="308.8" r="1.5" fill="#000" stroke="#000" stroke-width="0.5"/>
<circle cx="396.4" cy="305.2" r="1.5" fill="#000" stroke="#000" stroke-width="0.5"/>
<circle cx="418.7" cy="300.6" r="1.5" fill="#000" stroke="#000" stroke-width="0.5"/>
<line x1="439.2" y1="278.4" x2="448.7" y2="278.4" stroke="#000" stroke-width="1.8"/>
<circle cx="443.95" cy="278.4" r="1.8" fill="#000" stroke="#000" stroke-width="0.5"/>
<text x="454.9" y="280.9" font-size="6.85" text-anchor="start">PG-APS + EglN1+2</text>
<line x1="439.2" y1="288.79999999999995" x2="448.7" y2="288.79999999999995" stroke="#222" stroke-width="1.8"/>
<rect x="442.1" y="287.0" width="3.6" height="3.6" fill="#aaa" stroke="#aaa" stroke-width="0.6"/>
<text x="454.9" y="291.29999999999995" font-size="6.85" text-anchor="start">PG-APS + Luc</text>
<line x1="439.2" y1="299.2" x2="448.7" y2="299.2" stroke="#222" stroke-width="1.8"/>
<path d="M441.8,297.7 L446.1,297.7 L443.9,301.3 Z" fill="#888" stroke="#888" stroke-width="0.5"/>
<text x="454.9" y="301.7" font-size="6.85" text-anchor="start">PG-APS</text>
<line x1="439.2" y1="309.59999999999997" x2="448.7" y2="309.59999999999997" stroke="#222" stroke-width="1.8"/>
<rect x="442.6" y="308.1" width="2.6" height="3" fill="#fff"/>
<text x="454.9" y="312.09999999999997" font-size="6.85" text-anchor="start">PBS</text>
<text x="351.4" y="308.5" font-size="6" text-anchor="middle">*</text>
<text x="401.6" y="303.1" font-size="6" text-anchor="middle">**</text>
<text x="425.4" y="301.5" font-size="6" text-anchor="middle">**</text>
</svg>
</body></html>
